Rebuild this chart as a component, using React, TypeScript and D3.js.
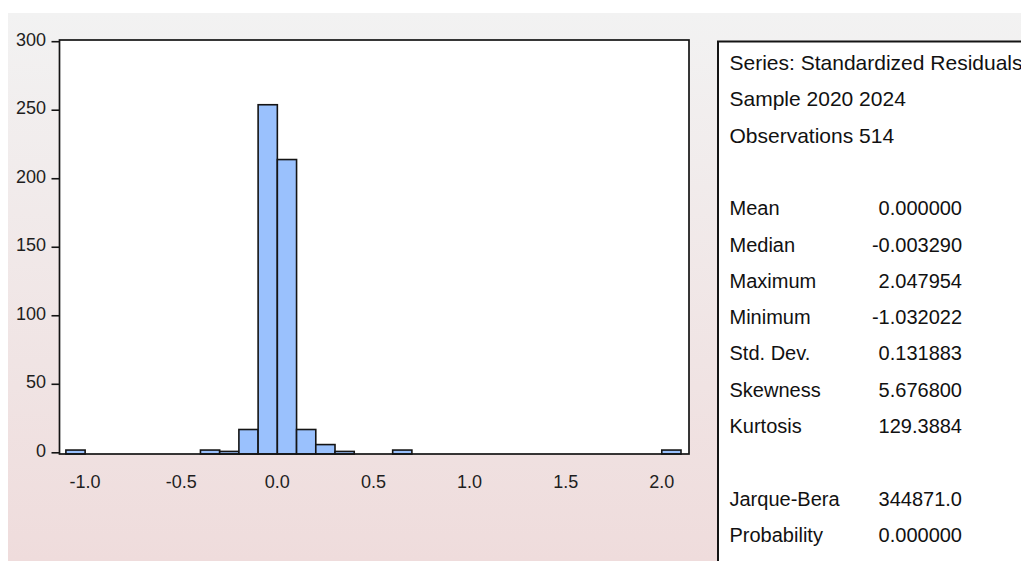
import React from "react";
import * as d3 from "d3";

const binStarts = [-1.1, -0.4, -0.3, -0.2, -0.1, 0.0, 0.1, 0.2, 0.3, 0.6, 2.0];
const binCounts = [2, 2, 1, 17, 254, 214, 17, 6, 1, 2, 2];
const binWidth = 0.1;

const xTickValues = [-1.0, -0.5, 0.0, 0.5, 1.0, 1.5, 2.0];
const xTickLabels = ["-1.0", "-0.5", "0.0", "0.5", "1.0", "1.5", "2.0"];
const yTickValues = [0, 50, 100, 150, 200, 250, 300];

const headerLines = ["Series: Standardized Residuals", "Sample 2020 2024", "Observations 514"];
const statNames = ["Mean", "Median", "Maximum", "Minimum", "Std. Dev.", "Skewness", "Kurtosis"];
const statValues = ["0.000000", "-0.003290", "2.047954", "-1.032022", "0.131883", "5.676800", "129.3884"];
const testNames = ["Jarque-Bera", "Probability"];
const testValues = ["344871.0", "0.000000"];

const W = 1021;
const H = 561;
const plotLeft = 59.5;
const plotRight = 689;
const plotTop = 40;
const plotBottom = 454;

export default function App() {
  const x = d3.scaleLinear().domain([-1.1, 2.1]).range([65.9, 681]);
  const y = d3.scaleLinear().domain([0, 300]).range([452.8, 41.7]);

  const font = "'Liberation Sans', Arial, Helvetica, sans-serif";
  const rowY = (i: number) => 70 + 36.3 * i;
  const labelX = 729.5;
  const valueX = 962;

  return (
    <svg
      width={W}
      height={H}
      style={{ position: "absolute", left: 0, top: 0, display: "block" }}
      xmlns="http://www.w3.org/2000/svg"
    >
      <defs>
        <linearGradient id="bg" x1="0" y1="0" x2="0" y2="1">
          <stop offset="0" stopColor="#f2f2f2" />
          <stop offset="1" stopColor="#efdcdc" />
        </linearGradient>
      </defs>
      <rect x={0} y={0} width={W} height={H} fill="#ffffff" />
      <rect x={8} y={13} width={W - 8} height={H - 13} fill="url(#bg)" />

      <rect x={plotLeft} y={plotTop} width={plotRight - plotLeft} height={plotBottom - plotTop} fill="#ffffff" />

      {binStarts.map((s, i) => (
        <rect
          key={i}
          x={x(s)}
          y={y(binCounts[i])}
          width={x(s + binWidth) - x(s)}
          height={plotBottom - y(binCounts[i])}
          fill="#9ac1fd"
          stroke="#141414"
          strokeWidth={1.6}
        />
      ))}

      <rect
        x={plotLeft}
        y={plotTop}
        width={plotRight - plotLeft}
        height={plotBottom - plotTop}
        fill="none"
        stroke="#141414"
        strokeWidth={1.7}
      />

      {yTickValues.map((v) => (
        <g key={v}>
          <line x1={51.5} x2={plotLeft} y1={y(v)} y2={y(v)} stroke="#141414" strokeWidth={1.6} />
          <text x={46} y={y(v) + 4} textAnchor="end" fontFamily={font} fontSize={18} fill="#1e1e1e">
            {v}
          </text>
        </g>
      ))}

      {xTickValues.map((v, i) => (
        <text key={v} x={x(v)} y={488} textAnchor="middle" fontFamily={font} fontSize={18} fill="#1e1e1e">
          {xTickLabels[i]}
        </text>
      ))}

      <rect x={718} y={41.5} width={420} height={540} fill="#ffffff" stroke="#141414" strokeWidth={2} />

      {headerLines.map((t, i) => (
        <text key={t} x={labelX} y={rowY(i)} fontFamily={font} fontSize={21} fill="#111">
          {t}
        </text>
      ))}
      {statNames.map((t, i) => (
        <g key={t}>
          <text x={labelX} y={rowY(4 + i)} fontFamily={font} fontSize={20} fill="#111">
            {t}
          </text>
          <text x={valueX} y={rowY(4 + i)} textAnchor="end" fontFamily={font} fontSize={20} fill="#111">
            {statValues[i]}
          </text>
        </g>
      ))}
      {testNames.map((t, i) => (
        <g key={t}>
          <text x={labelX} y={rowY(12 + i)} fontFamily={font} fontSize={20} fill="#111">
            {t}
          </text>
          <text x={valueX} y={rowY(12 + i)} textAnchor="end" fontFamily={font} fontSize={20} fill="#111">
            {testValues[i]}
          </text>
        </g>
      ))}
    </svg>
  );
}
